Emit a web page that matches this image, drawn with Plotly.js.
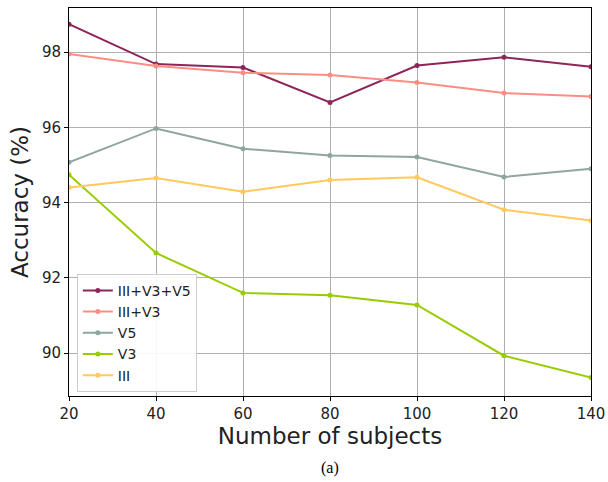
<!DOCTYPE html>
<html><head><meta charset="utf-8">
<script src="https://cdn.plot.ly/plotly-3.0.1.min.js"></script>
<style>html,body{margin:0;padding:0;background:#fff;}#chart{width:608px;height:482px;}</style>
</head><body><div id="chart"></div>
<script>
const subjects = [20, 40, 60, 80, 100, 120, 140];
const seriesNames = ["III+V3+V5", "III+V3", "V5", "V3", "III"];
const acc_III_V3_V5 = [98.74, 97.68, 97.59, 96.66, 97.64, 97.86, 97.61];
const acc_III_V3 = [97.95, 97.63, 97.45, 97.39, 97.19, 96.91, 96.82];
const acc_V5 = [95.07, 95.97, 95.43, 95.25, 95.21, 94.68, 94.90];
const acc_V3 = [94.74, 92.66, 91.60, 91.54, 91.28, 89.93, 89.35];
const acc_III = [94.40, 94.65, 94.29, 94.60, 94.67, 93.81, 93.52];
const xTicks = [20, 40, 60, 80, 100, 120, 140];
const yTicks = [90, 92, 94, 96, 98];

const values = [acc_III_V3_V5, acc_III_V3, acc_V5, acc_V3, acc_III];
const colors = ["#8c2659", "#fb8e84", "#8fa69c", "#99cc00", "#ffc95e"];

const traces = values.map((v, i) => ({
  x: subjects, y: v, name: seriesNames[i], type: "scatter", mode: "lines+markers",
  line: {color: colors[i], width: 2}, marker: {color: colors[i], size: 5}
}));

const layout = {
  width: 608, height: 482,
  margin: {l: 69, r: 17, t: 8, b: 86},
  paper_bgcolor: "#fff", plot_bgcolor: "#fff",
  font: {family: "DejaVu Sans", color: "#000", size: 14},
  showlegend: true,
  legend: {x: 0.015, y: 0.315, xanchor: "left", yanchor: "top", bgcolor: "rgba(255,255,255,0.9)",
           bordercolor: "#cccccc", borderwidth: 1, font: {size: 14, family: "DejaVu Sans", color: "#222"}, tracegroupgap: 0},
  xaxis: {range: [20, 140], tickvals: xTicks, ticks: "outside", ticklen: 4, tickcolor: "#000",
          showline: true, linecolor: "#000", linewidth: 1, mirror: true,
          showgrid: true, gridcolor: "#b0b0b0", gridwidth: 1, zeroline: false,
          tickfont: {size: 15, color: "#222"},
          title: {text: "Number of subjects", font: {size: 23, color: "#222"}, standoff: 4}},
  yaxis: {range: [88.86, 99.17], tickvals: yTicks, ticks: "outside", ticklen: 4, tickcolor: "#000",
          showline: true, linecolor: "#000", linewidth: 1, mirror: true,
          showgrid: true, gridcolor: "#b0b0b0", gridwidth: 1, zeroline: false,
          tickfont: {size: 15, color: "#222"},
          title: {text: "Accuracy (%)", font: {size: 23, color: "#222"}, standoff: 6}},
  annotations: [{text: "(a)", xref: "paper", yref: "paper", x: 0.5, y: -0.186, xanchor: "center", yanchor: "middle",
                 showarrow: false, font: {family: "Liberation Serif", size: 16, color: "#000"}}]
};
Plotly.newPlot("chart", traces, layout, {displayModeBar: false, staticPlot: true});
</script></body></html>
